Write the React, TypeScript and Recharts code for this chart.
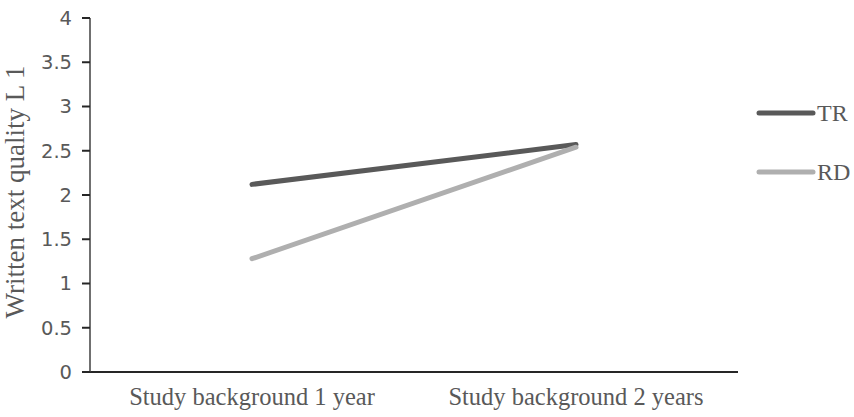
import { LineChart, Line, XAxis, YAxis, Label } from 'recharts';

const categories = ['Study background 1 year', 'Study background 2 years'];
const trValues = [2.12, 2.57];
const rdValues = [1.28, 2.54];
const yTicks = [0, 0.5, 1, 1.5, 2, 2.5, 3, 3.5, 4];
const seriesNames = ['TR', 'RD'];
const seriesColors = ['#595959', '#afafaf'];

const data = categories.map((c, i) => ({ name: c, TR: trValues[i], RD: rdValues[i] }));

const serif = '"Liberation Serif", "Times New Roman", serif';
const sans = '"DejaVu Sans", Verdana, sans-serif';

function LegendBox() {
  return (
    <div style={{ position: 'absolute', left: 753, top: 101 }}>
      {seriesNames.map((name, i) => (
        <div key={name} style={{ display: 'flex', alignItems: 'center', height: 24, marginBottom: i === 0 ? 35 : 0 }}>
          <svg width={64} height={10}>
            <line x1={6} y1={5} x2={60} y2={5} stroke={seriesColors[i]} strokeWidth={5} strokeLinecap="round" />
          </svg>
          <span style={{ fontFamily: serif, fontSize: 24, color: '#595959' }}>{name}</span>
        </div>
      ))}
    </div>
  );
}

function YTitle() {
  return (
    <text x={24} y={192} transform="rotate(-90 24 192)" textAnchor="middle" fontFamily={serif} fontSize={27} fill="#595959">
      Written text quality L 1
    </text>
  );
}

export default function App() {
  return (
    <div style={{ position: 'absolute', left: 0, top: 0, width: 854, height: 417, background: '#fff' }}>
      <LineChart width={854} height={417} data={data} margin={{ top: 18, right: 116, bottom: 15, left: 0 }}>
        <XAxis
          dataKey="name"
          height={30}
          padding={{ left: 162, right: 162 }}
          tickLine={false}
          axisLine={{ stroke: '#262626', strokeWidth: 2 }}
          tick={{ fontFamily: serif, fontSize: 24.5, fill: '#595959' }}
          tickMargin={10}
          interval={0}
        />
        <YAxis
          width={90}
          domain={[0, 4]}
          ticks={yTicks}
          tickSize={8}
          tickMargin={10}
          tickLine={{ stroke: '#262626', strokeWidth: 2 }}
          axisLine={{ stroke: '#404040', strokeWidth: 1.5 }}
          tick={{ fontFamily: sans, fontSize: 19.5, fill: '#595959' }}
        >
          <Label content={<YTitle />} />
        </YAxis>
        <Line type="linear" dataKey="TR" name={seriesNames[0]} stroke={seriesColors[0]} strokeWidth={5} strokeLinecap="round" dot={false} isAnimationActive={false} />
        <Line type="linear" dataKey="RD" name={seriesNames[1]} stroke={seriesColors[1]} strokeWidth={5} strokeLinecap="round" dot={false} isAnimationActive={false} />
      </LineChart>
      <LegendBox />
    </div>
  );
}
